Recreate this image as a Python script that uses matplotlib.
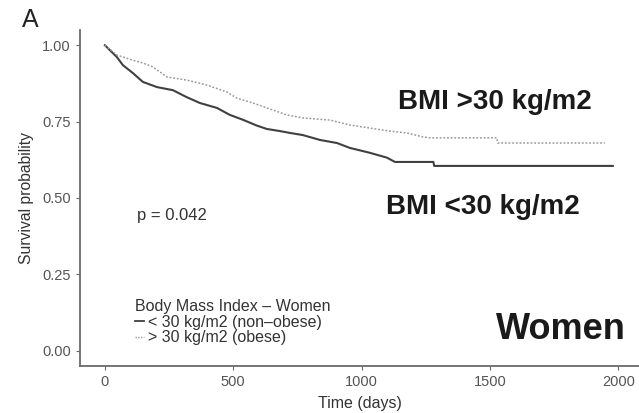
import matplotlib.pyplot as plt
from matplotlib.lines import Line2D

plt.rcParams['font.family'] = ['Liberation Sans', 'DejaVu Sans']

# Kaplan-Meier curves (time in days, survival probability)
t_nonobese = [0, 47, 70, 109, 148, 203, 265, 319, 370, 436, 487, 538, 592, 631,
              682, 721, 771, 838, 904, 954, 1032, 1099, 1130, 1280, 1283, 1979]
s_nonobese = [1.0, 0.961, 0.935, 0.909, 0.880, 0.863, 0.853, 0.830, 0.811, 0.795,
              0.772, 0.756, 0.737, 0.726, 0.719, 0.713, 0.706, 0.690, 0.680, 0.664,
              0.648, 0.632, 0.618, 0.618, 0.605, 0.605]

t_obese = [0, 47, 109, 148, 187, 242, 319, 397, 475, 514, 577, 654, 709, 771,
           877, 954, 1032, 1110, 1176, 1239, 1266, 1527, 1530, 1948]
s_obese = [1.0, 0.968, 0.951, 0.942, 0.929, 0.896, 0.886, 0.870, 0.847, 0.827,
           0.811, 0.788, 0.772, 0.762, 0.755, 0.739, 0.729, 0.719, 0.713, 0.700,
           0.697, 0.697, 0.680, 0.680]

x_ticks = [0, 500, 1000, 1500, 2000]
y_ticks = [0.00, 0.25, 0.50, 0.75, 1.00]
y_ticklabels = ['0.00', '0.25', '0.50', '0.75', '1.00']

fig = plt.figure(figsize=(6.39, 4.13), dpi=100)
ax = fig.add_axes([0.1252, 0.1138, 0.8748, 0.8136])

ax.plot(t_nonobese, s_nonobese, color='#404040', lw=1.5)
ax.plot(t_obese, s_obese, color='#9a9a9a', lw=1.1, ls=(0, (1.2, 1.2)))

ax.set_xlim(-97, 2081)
ax.set_ylim(-0.05, 1.05)
ax.set_xticks(x_ticks)
ax.set_yticks(y_ticks)
ax.set_yticklabels(y_ticklabels)

for side in ['top', 'right']:
    ax.spines[side].set_visible(False)
for side in ['left', 'bottom']:
    ax.spines[side].set_color('#6a6a6a')
    ax.spines[side].set_linewidth(1.3)
ax.tick_params(colors='#6a6a6a', labelcolor='#555555', labelsize=10.5, length=3, width=0.8)

ax.set_xlabel('Time (days)', fontsize=11.5, color='#333333', labelpad=5)
ax.set_ylabel('Survival probability', fontsize=11.3, color='#333333', labelpad=6)

ax.text(125, 0.444, 'p = 0.042', fontsize=12, color='#333333', va='center')
ax.text(1519, 0.815, 'BMI >30 kg/m2', fontsize=20, fontweight='bold',
        color='#1a1a1a', ha='center', va='center')
ax.text(1473, 0.470, 'BMI <30 kg/m2', fontsize=20, fontweight='bold',
        color='#1a1a1a', ha='center', va='center')
ax.text(1776, 0.068, 'Women', fontsize=26, fontweight='bold',
        color='#1a1a1a', ha='center', va='center')

fig.text(30 / 639, 1 - 20 / 413, 'A', fontsize=18, ha='center', va='center', color='#222222')

handles = [Line2D([], [], color='#404040', lw=1.3),
           Line2D([], [], color='#9a9a9a', lw=1.0, ls=(0, (1, 1)))]
leg = ax.legend(handles, ['< 30 kg/m2 (non\u2013obese)', '> 30 kg/m2 (obese)'],
                title='Body Mass Index \u2013 Women', loc='upper left',
                bbox_to_anchor=(0.098, 0.200), frameon=False, fontsize=11.5,
                title_fontsize=11.5, handlelength=0.6, handletextpad=0.2,
                labelspacing=0.05, borderpad=0, borderaxespad=0, alignment='left')
for txt in leg.get_texts():
    txt.set_color('#333333')
leg.get_title().set_color('#333333')

fig.savefig('out.png', dpi=100)
